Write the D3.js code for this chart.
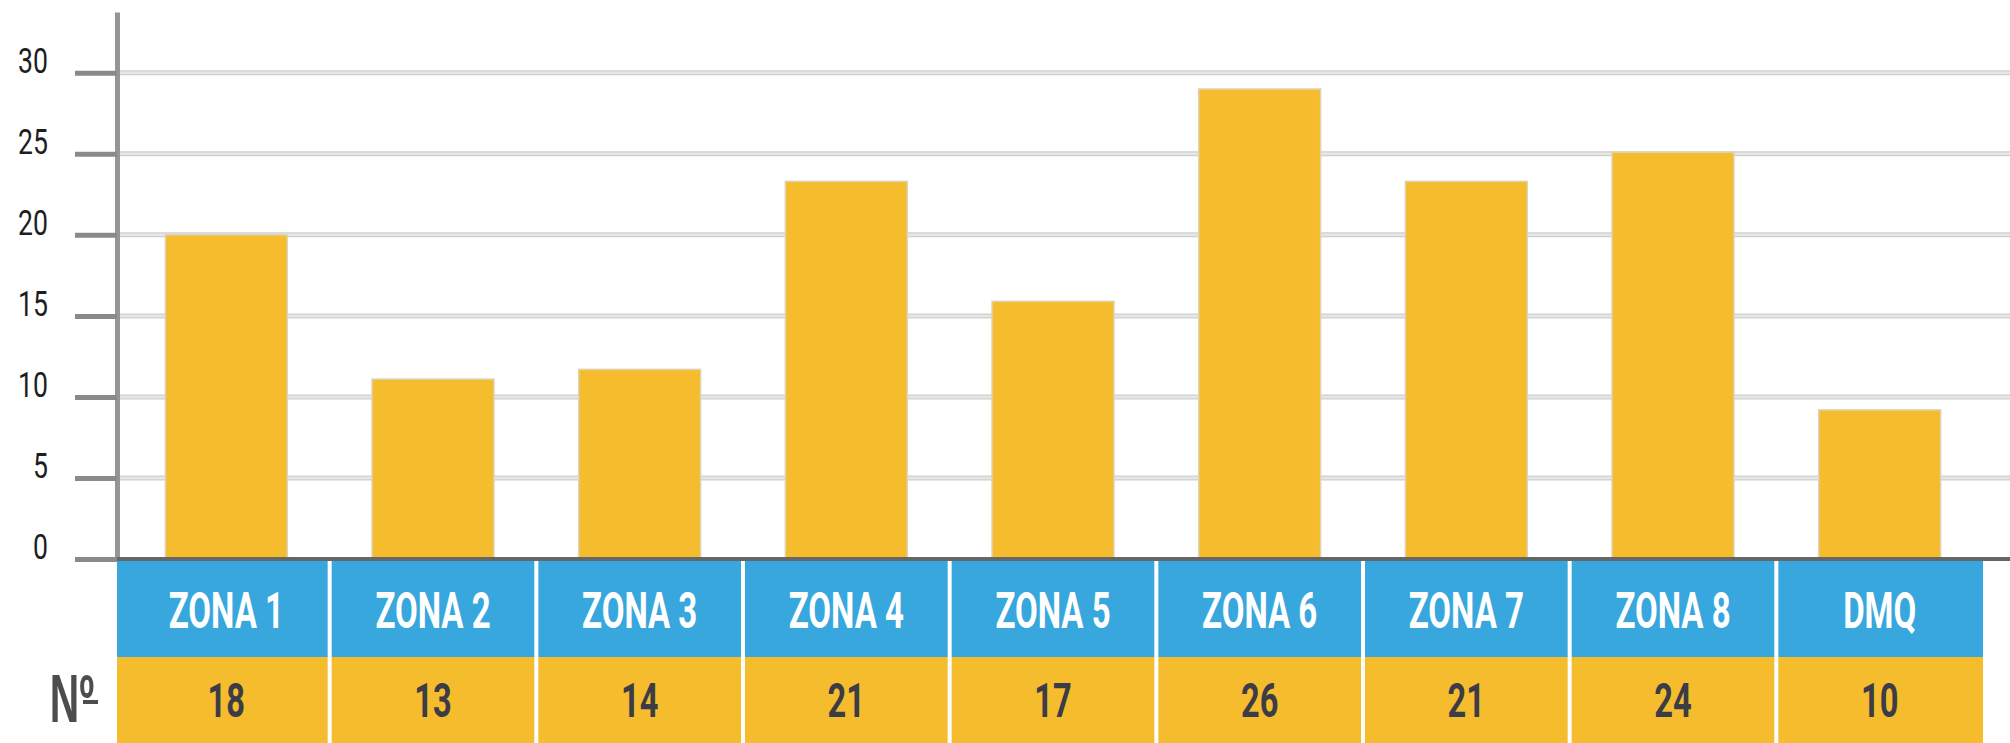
<!DOCTYPE html>
<html>
<head>
<meta charset="utf-8">
<script src="https://cdn.jsdelivr.net/npm/d3@7"></script>
<style>
  body { margin: 0; background: #fff; }
  svg { display: block; font-family: Roboto, "Noto Sans", sans-serif; }
</style>
</head>
<body>
<div id="chart"></div>
<script>
const zones = ['ZONA 1', 'ZONA 2', 'ZONA 3', 'ZONA 4', 'ZONA 5', 'ZONA 6', 'ZONA 7', 'ZONA 8', 'DMQ'];
const barValues = [20, 11.1, 11.7, 23.3, 15.9, 29, 23.3, 25.1, 9.2];
const counts = [18, 13, 14, 21, 17, 26, 21, 24, 10];
const yTicks = [0, 5, 10, 15, 20, 25, 30];
const rowLabel = 'Nº';

const w = 2010;
const h = 743;
const axisX = 117;
const tableRight = 1983;
const baseY = 559;
const topY = 12;
const headerBottom = 657;

const yellow = '#f5bd2e';
const blue = '#37a7dd';

const svg = d3.select('#chart')
              .append('svg')
              .attr('width', w)
              .attr('height', h);

// columns start a few px right of the axis, first cell is stretched back to it
const x = d3.scaleBand()
            .domain(zones)
            .range([axisX + 6, tableRight])
            .padding(0);

const y = d3.scaleLinear()
            .domain([0, 33.75])
            .range([baseY, topY]);

const barW = x.bandwidth() * 0.59;
const colLeft = (d, i) => i === 0 ? axisX : x(d);
const colWidth = (d, i) => x(d) + x.bandwidth() - colLeft(d, i);

// squeeze text horizontally to look like a condensed face
const squeeze = (sel, k) => {
  sel.each(function() {
    const t = d3.select(this);
    const tx = +t.attr('x') || 0;
    t.attr('x', tx / k).attr('transform', `scale(${k},1)`);
  });
};

//Gridlines
const grid = svg.append('g');
grid.selectAll('line.outer')
    .data(yTicks.filter(d => d > 0))
    .enter()
    .append('line')
    .attr('class', 'outer')
    .attr('x1', axisX + 3)
    .attr('x2', w)
    .attr('y1', d => y(d))
    .attr('y2', d => y(d))
    .attr('stroke', '#cfcfcf')
    .attr('stroke-width', 5);
grid.selectAll('line.inner')
    .data(yTicks.filter(d => d > 0))
    .enter()
    .append('line')
    .attr('class', 'inner')
    .attr('x1', axisX + 3)
    .attr('x2', w)
    .attr('y1', d => y(d))
    .attr('y2', d => y(d))
    .attr('stroke', '#e6e6e6')
    .attr('stroke-width', 2.5);

//Bars
svg.append('g')
   .selectAll('rect')
   .data(barValues)
   .enter()
   .append('rect')
   .attr('x', (d, i) => x(zones[i]) + (x.bandwidth() - barW) / 2)
   .attr('y', d => y(d))
   .attr('width', barW)
   .attr('height', d => y(0) - y(d))
   .attr('fill', yellow)
   .attr('stroke', '#ddd3b5')
   .attr('stroke-width', 1.5);

//Y axis
const yAxis = d3.axisLeft(y)
                .tickValues(yTicks)
                .tickSize(42)
                .tickSizeOuter(0)
                .tickPadding(27);

const ag = svg.append('g')
              .attr('transform', `translate(${axisX}, 0)`)
              .call(yAxis);

ag.select('.domain')
  .attr('stroke', '#959595')
  .attr('stroke-width', 5);
ag.selectAll('.tick line')
  .attr('stroke', '#8a8a8a')
  .attr('stroke-width', 5);
ag.selectAll('.tick text')
  .attr('fill', '#1e1e1e')
  .style('font-size', '36px')
  .style('font-family', 'Roboto, sans-serif')
  .attr('dy', '-0.02em')
  .call(squeeze, 0.74);

//Table - header row and count row
const table = svg.append('g');

table.selectAll('rect.head')
     .data(zones)
     .enter()
     .append('rect')
     .attr('class', 'head')
     .attr('x', colLeft)
     .attr('y', baseY)
     .attr('width', colWidth)
     .attr('height', headerBottom - baseY)
     .attr('fill', blue);

table.selectAll('rect.count')
     .data(zones)
     .enter()
     .append('rect')
     .attr('class', 'count')
     .attr('x', colLeft)
     .attr('y', headerBottom)
     .attr('width', colWidth)
     .attr('height', h - headerBottom)
     .attr('fill', yellow);

//white separators between columns
table.selectAll('line.sep')
     .data(zones.slice(1))
     .enter()
     .append('line')
     .attr('class', 'sep')
     .attr('x1', d => x(d))
     .attr('x2', d => x(d))
     .attr('y1', baseY)
     .attr('y2', h)
     .attr('stroke', '#fff')
     .attr('stroke-width', 4);

//Baseline
svg.append('line')
   .attr('x1', axisX)
   .attr('x2', w)
   .attr('y1', y(0))
   .attr('y2', y(0))
   .attr('stroke', '#666')
   .attr('stroke-width', 4);

//Header labels
table.selectAll('text.head')
     .data(zones)
     .enter()
     .append('g')
     .attr('transform', d => `translate(${x(d) + x.bandwidth() / 2}, 628)`)
     .append('text')
     .attr('class', 'head')
     .attr('text-anchor', 'middle')
     .attr('fill', '#fff')
     .style('font-size', '50px')
     .style('font-weight', 700)
     .text(d => d)
     .call(squeeze, 0.66);

//Count labels
table.selectAll('text.count')
     .data(counts)
     .enter()
     .append('g')
     .attr('transform', (d, i) => `translate(${x(zones[i]) + x.bandwidth() / 2}, 717)`)
     .append('text')
     .attr('class', 'count')
     .attr('text-anchor', 'middle')
     .attr('fill', '#3c3c46')
     .style('font-size', '48px')
     .style('font-weight', 700)
     .text(d => d)
     .call(squeeze, 0.68);

//Row label
const rl = svg.append('g')
              .attr('transform', 'translate(72, 722)');
rl.append('text')
  .attr('text-anchor', 'middle')
  .attr('fill', '#4d4d4d')
  .style('font-family', '"Liberation Sans", Arial, sans-serif')
  .style('font-size', '68px')
  .style('font-weight', 700)
  .text(rowLabel)
  .call(squeeze, 0.6);
// underline of the ordinal sign
rl.append('rect')
  .attr('x', 11)
  .attr('y', -22)
  .attr('width', 15)
  .attr('height', 4)
  .attr('fill', '#4d4d4d');
</script>
</body>
</html>
